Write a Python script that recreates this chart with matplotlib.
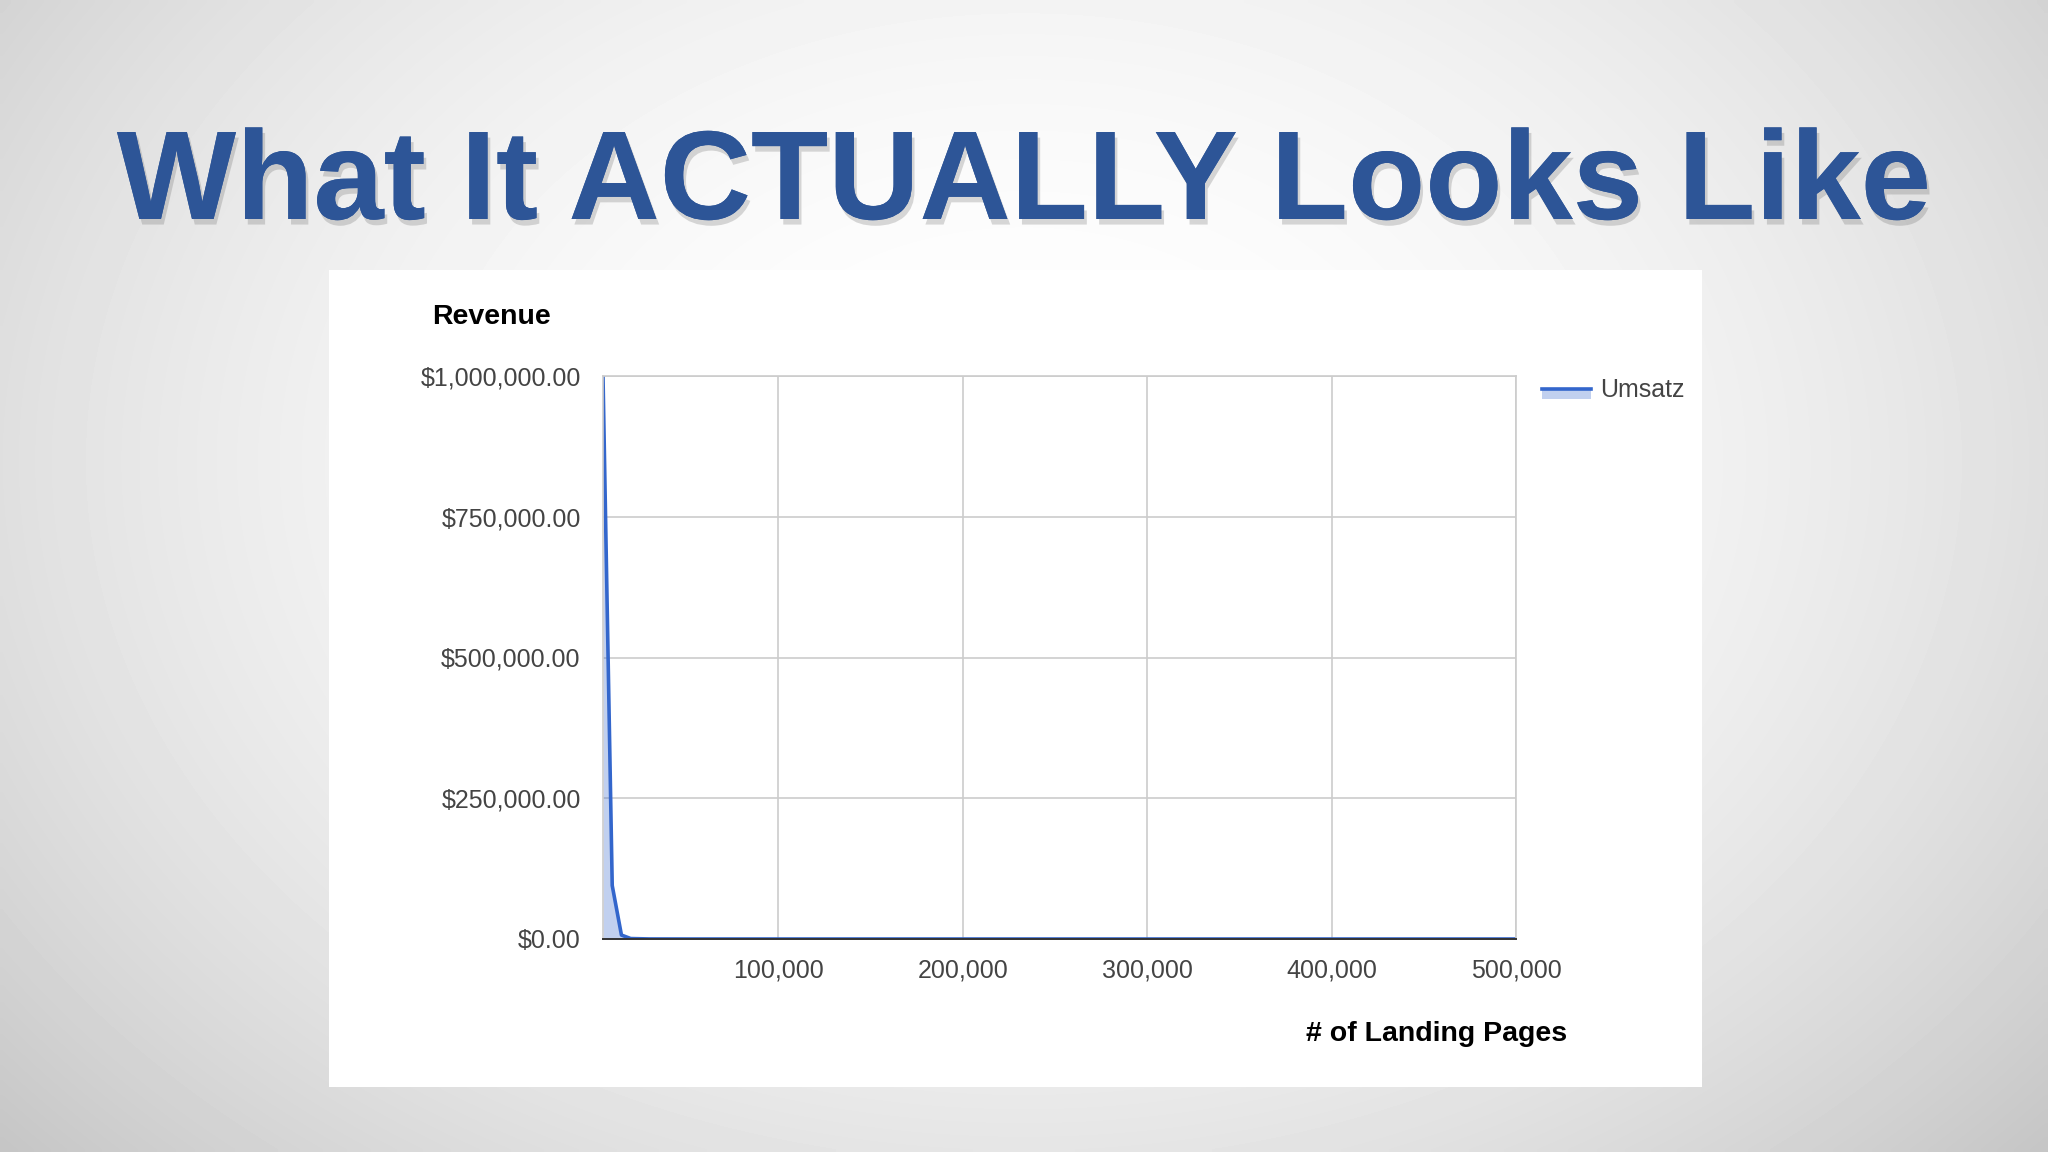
import numpy as np
import matplotlib.pyplot as plt
import matplotlib.patheffects as pe
from matplotlib.lines import Line2D
from matplotlib.patches import Rectangle

# --- data ---
landing_pages = [5000, 10000, 15000, 20000, 30000, 50000, 100000, 200000, 300000, 400000, 500000]
revenue = [1000000, 95000, 7000, 800, 100, 20, 5, 1, 0, 0, 0]
x_ticks = [100000, 200000, 300000, 400000, 500000]
y_ticks = [0, 250000, 500000, 750000, 1000000]

LINE = '#3366cc'
TITLE_BLUE = '#2d5597'

W, H = 2048, 1152
fig = plt.figure(figsize=(W / 100, H / 100), dpi=100)

# slide background: soft radial gradient
bg = fig.add_axes([0, 0, 1, 1])
yy, xx = np.mgrid[0:1:200j, 0:1:360j]
r = np.sqrt(((xx - 0.5) / 0.6) ** 2 + ((yy - 0.4) / 0.8) ** 2)
bg.imshow(1 - 0.18 * np.clip(r, 0, 1.2) ** 2, cmap='gray', vmin=0, vmax=1,
          extent=[0, 1, 0, 1], aspect='auto', interpolation='bilinear')
bg.set_xlim(0, 1)
bg.set_ylim(0, 1)
bg.axis('off')

# white chart panel
bg.add_patch(Rectangle((329 / W, 1 - 1087 / H), (1702 - 329) / W, (1087 - 270) / H,
                       facecolor='white', edgecolor='none'))

# title
fig.text(0.5, 1 - 186 / H, 'What It ACTUALLY Looks Like', ha='center', va='center',
         fontsize=91, fontweight='bold', family='Liberation Sans', color=TITLE_BLUE,
         path_effects=[pe.withSimplePatchShadow(offset=(2, -4), shadow_rgbFace='#666666', alpha=0.25),
                       pe.Normal()])

ax = fig.add_axes([603 / W, 1 - 939 / H, (1516 - 603) / W, (939 - 376) / H])
ax.set_facecolor('white')
ax.fill_between(landing_pages, revenue, 0, color=LINE, alpha=0.3, linewidth=0)
ax.plot(landing_pages, revenue, color=LINE, linewidth=2.6)

ax.set_xlim(5000, 500000)
ax.set_ylim(0, 1000000)
ax.set_xticks(x_ticks)
ax.set_yticks(y_ticks)
ax.set_xticklabels([f'{v:,}' for v in x_ticks], family='Liberation Sans', fontsize=18, color='#444444')
ax.set_yticklabels([f'${v:,.2f}' for v in y_ticks], family='Liberation Sans', fontsize=18, color='#444444')
ax.tick_params(axis='y', length=0, pad=16)
ax.tick_params(axis='x', length=0, pad=14)
ax.grid(True, color='#cccccc', linewidth=1.2)
ax.set_axisbelow(True)
for s in ['top', 'right', 'left']:
    ax.spines[s].set_color('#cccccc')
    ax.spines[s].set_linewidth(1.2)
ax.spines['bottom'].set_color('#333333')
ax.spines['bottom'].set_linewidth(1.4)

fig.text(432 / W, 1 - 317 / H, 'Revenue', ha='left', va='center', fontsize=20.5,
         fontweight='bold', family='Liberation Sans', color='black')
fig.text(1567 / W, 1 - 1034 / H, '# of Landing Pages', ha='right', va='center', fontsize=20.5,
         fontweight='bold', family='Liberation Sans', color='black')

# legend
bg.add_patch(Rectangle((1542 / W, 1 - 399 / H), 49 / W, 10 / H, facecolor=LINE, alpha=0.3,
                       edgecolor='none'))
bg.add_line(Line2D([1542 / W, 1591 / W], [1 - 389 / H, 1 - 389 / H], color=LINE, linewidth=2.6))
fig.text(1600 / W, 1 - 390 / H, 'Umsatz', ha='left', va='center', fontsize=18,
         family='Liberation Sans', color='#444444')

fig.savefig('out.png', dpi=100)
